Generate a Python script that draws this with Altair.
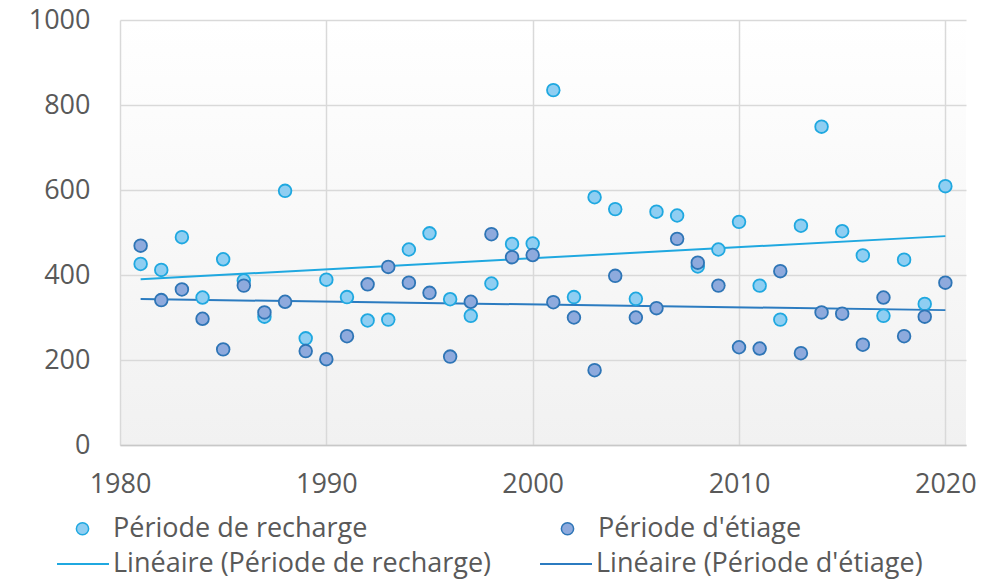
import altair as alt
import pandas as pd

years = list(range(1981, 2021))
recharge = [426, 412, 489, 347, 437, 387, 302, 598, 251, 389,
            348, 293, 295, 460, 498, 343, 304, 380, 473, 474,
            835, 348, 583, 555, 344, 549, 540, 420, 460, 525,
            375, 295, 516, 749, 503, 446, 304, 436, 332, 609]
etiage = [469, 341, 366, 297, 225, 375, 312, 337, 221, 202,
          256, 378, 419, 382, 358, 208, 337, 496, 442, 447,
          336, 300, 176, 398, 300, 322, 485, 429, 375, 230,
          227, 409, 216, 312, 309, 236, 347, 256, 302, 382]

series_names = ["Période de recharge", "Période d'étiage"]
trend_names = ["Linéaire (Période de recharge)", "Linéaire (Période d'étiage)"]
x_ticks = [1980, 1990, 2000, 2010, 2020]
y_ticks = [0, 200, 400, 600, 800, 1000]

df = pd.concat([
    pd.DataFrame({"year": years, "value": recharge, "series": series_names[0]}),
    pd.DataFrame({"year": years, "value": etiage, "series": series_names[1]}),
])

FONT = "Open Sans"
TXT = "#595959"

x_enc = alt.X("year:Q", scale=alt.Scale(domain=[1980, 2021], nice=False, zero=False),
              axis=alt.Axis(values=x_ticks, format="d", title=None, labelFlush=False))
y_enc = alt.Y("value:Q", scale=alt.Scale(domain=[0, 1000], nice=False),
              axis=alt.Axis(values=y_ticks, format="d", title=None, labelFlush=False))

point_legend = alt.Legend(title=None, orient="none", legendX=-51, legendY=495,
                          direction="horizontal", columns=2, columnPadding=186,
                          labelFont=FONT, labelFontSize=27, labelColor=TXT, labelLimit=0,
                          symbolSize=150, labelOffset=17, symbolStrokeWidth=1.5,
                          symbolType="circle")
line_legend = alt.Legend(title=None, orient="none", legendX=-64, legendY=517,
                         direction="horizontal", columns=2, columnPadding=44,
                         labelFont=FONT, labelFontSize=27, labelColor=TXT, labelLimit=0,
                         symbolType="stroke", symbolSize=2700, symbolStrokeWidth=2,
                         labelOffset=3)

base = alt.Chart(df)

lines = base.transform_regression(
    "year", "value", groupby=["series"]
).transform_calculate(
    trend="'Linéaire (' + datum.series + ')'"
).mark_line(strokeWidth=2).encode(
    x=x_enc, y=y_enc,
    color=alt.Color("trend:N", scale=alt.Scale(domain=trend_names, range=["#1fa8e0", "#2b7bc0"]),
                    legend=line_legend),
)

points = base.mark_point(filled=True, size=160, strokeWidth=1.8, opacity=1).encode(
    x=x_enc, y=y_enc,
    fill=alt.Fill("series:N", scale=alt.Scale(domain=series_names, range=["#8fcef2", "#8eaadd"]),
                  legend=point_legend),
    stroke=alt.Stroke("series:N", scale=alt.Scale(domain=series_names, range=["#1fa8e0", "#2e75b6"]),
                      legend=point_legend),
)

chart = alt.layer(lines, points).properties(
    width=846, height=425,
    autosize=alt.AutoSizeParams(type="none"),
    padding={"left": 112, "top": 12, "right": 31, "bottom": 134},
).configure_view(
    strokeWidth=0,
    fill={"expr": "{gradient: 'linear', x1: 0, y1: 0, x2: 0, y2: 1, stops: [{offset: 0, color: '#ffffff'}, {offset: 1, color: '#f1f1f1'}]}"},
).configure_axis(
    labelFont=FONT, labelFontSize=27, labelColor=TXT,
    gridColor="#d9d9d9", gridWidth=1.5, domainColor="#c8c8c8", domainWidth=1.5,
    ticks=False,
).configure_axisX(
    labelPadding=26, domain=True,
).configure_axisY(
    labelPadding=30, domain=False,
)

chart.save("out.html", embed_options={"renderer": "svg", "actions": False})
